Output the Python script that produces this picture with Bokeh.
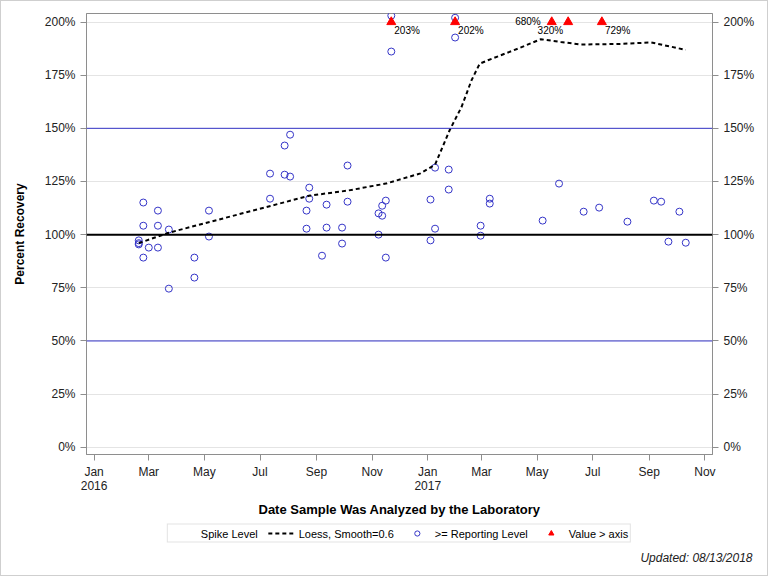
import numpy as np
import pandas as pd
from bokeh.plotting import figure
from bokeh.layouts import column
from bokeh.models import (Range1d, LinearAxis, FixedTicker, PrintfTickFormatter,
                          Span, Legend, LegendItem, Title, ColumnDataSource)
from bokeh.core.properties import value
from bokeh.embed import file_html
from bokeh.resources import INLINE

# Spike recoveries (percent) by the date the sample was analyzed
sample_dates = [
    "2016-02-19", "2016-02-19", "2016-02-19",
    "2016-02-24", "2016-02-24", "2016-02-24",
    "2016-03-01",
    "2016-03-11", "2016-03-11", "2016-03-11",
    "2016-03-23", "2016-03-23",
    "2016-04-20", "2016-04-20",
    "2016-05-06", "2016-05-06",
    "2016-07-12", "2016-07-12",
    "2016-07-28", "2016-07-28",
    "2016-08-03", "2016-08-03",
    "2016-08-21", "2016-08-21",
    "2016-08-24", "2016-08-24",
    "2016-09-07",
    "2016-09-12", "2016-09-12",
    "2016-09-29", "2016-09-29",
    "2016-10-05", "2016-10-05",
    "2016-11-08", "2016-11-08",
    "2016-11-12", "2016-11-12",
    "2016-11-16", "2016-11-16",
    "2016-11-22", "2016-11-22",
    "2017-01-04", "2017-01-04",
    "2017-01-09", "2017-01-09",
    "2017-01-24", "2017-01-24",
    "2017-01-31", "2017-01-31",
    "2017-02-28", "2017-02-28",
    "2017-03-10", "2017-03-10",
    "2017-05-07",
    "2017-05-17",
    "2017-05-25",
    "2017-06-04",
    "2017-06-21",
    "2017-07-08",
    "2017-07-11",
    "2017-08-08",
    "2017-09-06",
    "2017-09-14",
    "2017-09-22",
    "2017-10-04",
    "2017-10-11",
]
recovery = [
    97.3, 96.0, 95.4,
    115.1, 104.2, 89.2,
    93.9,
    111.3, 104.2, 93.9,
    102.4, 74.6,
    89.2, 79.8,
    111.3, 99.1,
    128.7, 116.9,
    141.9, 128.2,
    147.0, 127.3,
    111.3, 102.8,
    122.1, 116.9,
    90.1,
    114.1, 103.3,
    103.3, 95.8,
    132.5, 115.5,
    110.0, 100.0,
    113.6, 108.9,
    116.0, 89.2,
    203.0, 186.1,
    116.5, 97.3,
    131.5, 102.8,
    130.6, 121.2,
    202.0, 192.7,
    104.2, 99.5,
    116.9, 114.6,
    106.6,
    680.0,
    124.0,
    320.0,
    110.8,
    112.7,
    729.0,
    106.1,
    116.0,
    115.5,
    96.7,
    110.8,
    96.2,
]

# Loess fit (smoothing parameter 0.6)
loess_dates = [
    "2016-02-19", "2016-03-23", "2016-08-24", "2016-10-05", "2016-11-16",
    "2016-12-24", "2017-01-09", "2017-01-25", "2017-02-07", "2017-02-18",
    "2017-02-27", "2017-03-08", "2017-04-10", "2017-05-05", "2017-05-27",
    "2017-06-18", "2017-08-01", "2017-09-03", "2017-10-11",
]
loess_recovery = [
    96.0, 100.9, 118.3, 120.7, 124.0,
    128.8, 132.9, 149.1, 160.0, 172.6,
    180.4, 182.0, 187.5, 191.9, 190.6,
    189.4, 189.7, 190.4, 186.9,
]

axis_max = 200                      # values above this get a marker on the axis
ref_levels = [50, 100, 150]
y_ticks = list(range(0, 201, 25))
tick_months = pd.date_range("2016-01-01", "2017-11-01", freq="2MS")
update_note = "Updated: 08/13/2018"

FONT = "Liberation Sans"
BLUE = "#3535c8"
GRAY = "#8e8e8e"
TEXT = "#222222"

dates = pd.to_datetime(sample_dates)
vals = np.array(recovery, dtype=float)
ldates = pd.to_datetime(loess_dates)

p = figure(
    frame_width=626, frame_height=441,
    x_axis_type="datetime",
    x_range=Range1d(pd.Timestamp("2015-12-23 16:00"), pd.Timestamp("2017-11-09 08:00")),
    y_range=Range1d(-3.4, 204.0),
    output_backend="svg", toolbar_location=None,
    min_border_left=85, min_border_right=55, min_border_top=12, min_border_bottom=66,
)
p.background_fill_color = "white"
p.border_fill_color = "white"
p.outline_line_color = GRAY

# right-hand copy of the percent axis
right_axis = LinearAxis()
p.add_layout(right_axis, "right")

for ax in p.yaxis:
    ax.ticker = FixedTicker(ticks=y_ticks)
    ax.formatter = PrintfTickFormatter(format="%d%%")
    ax.major_label_standoff = 5

xlabels = {}
for t in tick_months:
    lab = t.strftime("%b")
    if t.month == 1:
        lab += "\n" + t.strftime("%Y")
    xlabels[t.value / 1e6] = lab
p.xaxis.ticker = FixedTicker(ticks=list(xlabels.keys()))
p.xaxis.major_label_overrides = xlabels
p.xaxis.major_label_standoff = 4
p.xaxis.major_label_text_line_height = 1.0

for ax in p.xaxis + p.yaxis:
    ax.axis_line_color = GRAY
    ax.major_tick_line_color = GRAY
    ax.major_tick_out = 6
    ax.major_tick_in = 0
    ax.minor_tick_line_color = None
    ax.major_label_text_font = FONT
    ax.major_label_text_font_size = "12px"
    ax.major_label_text_color = TEXT
    ax.axis_label_text_font = FONT
    ax.axis_label_text_font_style = "bold"
    ax.axis_label_text_color = "black"

p.xaxis.axis_label = "Date Sample Was Analyzed by the Laboratory"
p.xaxis.axis_label_text_font_size = "13px"
p.xaxis.axis_label_standoff = 6
p.yaxis[0].axis_label = "Percent Recovery"
p.yaxis[0].axis_label_text_font_size = "12px"
p.yaxis[0].axis_label_standoff = 15

p.xgrid.visible = False
p.ygrid.ticker = FixedTicker(ticks=y_ticks)
p.ygrid.grid_line_color = "#e4e4e4"

# reference lines
for lvl in ref_levels:
    if lvl == 100:
        p.add_layout(Span(location=lvl, dimension="width", line_color="black", line_width=2))
    else:
        p.add_layout(Span(location=lvl, dimension="width", line_color=BLUE, line_width=1))

circle_style = dict(marker="circle", size=7, fill_color=None, line_color=BLUE, line_width=1)
loess_style = dict(line_color="black", line_width=2, line_dash="4 3")
tri_style = dict(marker="triangle", size=9, fill_color="red", line_color="red")

# observations
p.scatter(dates, vals, **circle_style)

# loess smooth
p.line(ldates, loess_recovery, **loess_style)

# values beyond the axis: marker at the axis limit with the value printed
over = vals > axis_max
od = dates[over]
ov = vals[over]
oy = np.minimum(ov, axis_max)
p.scatter(od, oy, **tri_style)

labels = np.array([f"{v:.0f}%" for v in ov])
label_side = {680: "left", 320: "below_left"}
placement = np.array([label_side.get(int(round(v)), "below_right") for v in ov])
placement_style = {
    "below_right": dict(text_align="left", text_baseline="top", x_offset=3, y_offset=3),
    "below_left": dict(text_align="right", text_baseline="top", x_offset=-5, y_offset=3),
    "left": dict(text_align="right", text_baseline="middle", x_offset=-11, y_offset=-1),
}
for name, style in placement_style.items():
    m = placement == name
    if m.any():
        src = ColumnDataSource(dict(x=od[m], y=oy[m], t=labels[m]))
        p.text("x", "y", "t", source=src, text_font=value(FONT), text_font_size="10px",
               text_color="black", **style)

# legend strip under the chart, with the update note; its keys reuse the
# series with the same styles (the strip's own ranges keep them out of view)
leg = figure(
    frame_width=626, frame_height=26,
    x_range=Range1d(0, 1), y_range=Range1d(0, 1),
    x_axis_type=None, y_axis_type=None,
    output_backend="svg", toolbar_location=None,
    min_border_left=85, min_border_right=55, min_border_top=0, min_border_bottom=29,
)
leg.outline_line_color = None
leg.background_fill_color = "white"
leg.border_fill_color = "white"

key_blank = leg.line(ldates, loess_recovery, line_alpha=0)
key_loess = leg.line(ldates, loess_recovery, **loess_style)
key_circ = leg.scatter(dates, vals, **circle_style)
key_tri = leg.scatter(od, oy, **tri_style)

legend = Legend(
    items=[
        LegendItem(label="Spike Level", renderers=[key_blank]),
        LegendItem(label="Loess, Smooth=0.6", renderers=[key_loess]),
        LegendItem(label=">= Reporting Level", renderers=[key_circ]),
        LegendItem(label="Value > axis", renderers=[key_tri]),
    ],
    orientation="horizontal", location="center",
    label_text_font=FONT, label_text_font_size="11px", label_text_color="black",
    glyph_width=26, glyph_height=13, label_height=13, label_standoff=5,
    spacing=10, padding=2, margin=0,
    border_line_color="#c8c8c8", border_line_width=1,
    background_fill_color="white", background_fill_alpha=1,
)
leg.add_layout(legend, "center")

note = Title(text=update_note, align="right", offset=-40, standoff=5,
             text_font=FONT, text_font_size="12px", text_font_style="italic",
             text_color=TEXT)
leg.add_layout(note, "below")

page = column(p, leg, spacing=0)
page.styles = {"border": "1px solid #cfcfcf"}

open("out.html", "w").write(file_html(page, INLINE))
